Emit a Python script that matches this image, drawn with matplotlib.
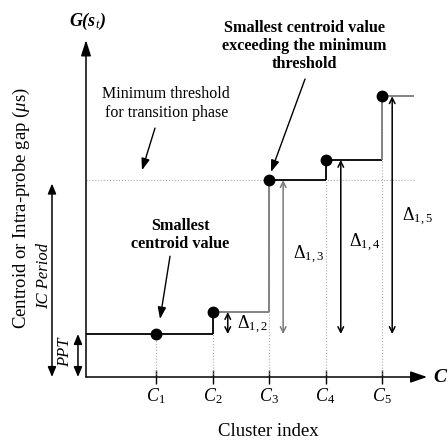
import numpy as np
import matplotlib.pyplot as plt

plt.rcParams['font.family'] = ['Liberation Serif', 'DejaVu Serif']
plt.rcParams['mathtext.fontset'] = 'custom'
plt.rcParams['mathtext.rm'] = 'Liberation Serif'
plt.rcParams['mathtext.it'] = 'Liberation Serif:italic'
plt.rcParams['mathtext.bf'] = 'Liberation Serif:bold'

# cluster index and centroid gap values (arbitrary units)
clusters = np.array([1, 2, 3, 4, 5])
centroids = np.array([1.0, 1.51, 4.58, 5.05, 6.53])
tick_labels = ['$C_1$', '$C_2$', '$C_3$', '$C_4$', '$C_5$']
threshold = 4.58
ic_period = 4.5
ppt = centroids[0]
delta_labels = [r'$\Delta_{1,2}$', r'$\Delta_{1,3}$', r'$\Delta_{1,4}$', r'$\Delta_{1,5}$']

GRAY = '#7a7a7a'
xmin, xmax = -0.239, 5.796
ymin, ymax = 0, 7.84
x_end = 5.57

fig = plt.figure(figsize=(4.48, 4.46), dpi=100)
ax = fig.add_axes([86 / 448, 69 / 446, 341 / 448, 337 / 446])
ax.set_xlim(xmin, xmax)
ax.set_ylim(ymin, ymax)
for s in ax.spines.values():
    s.set_visible(False)

# axes drawn as arrows
ax.annotate('', xy=(xmax, 0), xytext=(xmin, 0), annotation_clip=False,
            arrowprops=dict(arrowstyle='-|>,head_length=1.0,head_width=0.35',
                            color='black', lw=1.1, shrinkA=0, shrinkB=0))
ax.annotate('', xy=(xmin, ymax), xytext=(xmin, 0), annotation_clip=False,
            arrowprops=dict(arrowstyle='-|>,head_length=0.95,head_width=0.3',
                            color='black', lw=1.1, shrinkA=0, shrinkB=0))

ax.set_xticks(clusters)
ax.set_xticklabels(tick_labels, fontsize=13)
ax.set_yticks([])
ax.tick_params(axis='x', direction='inout', length=10, width=1, pad=2)

# threshold and guide lines
ax.plot([xmin, x_end], [threshold, threshold], ls=':', color='#aaaaaa', lw=0.8)
ax.vlines(clusters, 0, centroids, colors='#aaaaaa', linestyles=':', lw=0.8)

# step curve, split into segments so each can have its own shade
xs = np.r_[xmin, clusters[1:], x_end]
h_colors = ['black', GRAY, 'black', 'black', GRAY]
v_colors = ['black', GRAY, 'black', GRAY]
for i in range(len(centroids)):
    ax.plot([xs[i], xs[i + 1]], [centroids[i], centroids[i]], color=h_colors[i], lw=1.3,
            solid_capstyle='butt')
    if i < len(centroids) - 1:
        ax.plot([xs[i + 1], xs[i + 1]], [centroids[i], centroids[i + 1]], color=v_colors[i],
                lw=1.3, solid_capstyle='butt')
ax.plot(clusters, centroids, 'o', color='black', ms=7.5, zorder=5)

# delta arrows between the first centroid and each other centroid
d_offsets = [0.27, 0.25, 0.27, 0.18]
d_colors = ['black', GRAY, 'black', 'black']
for k in range(1, len(centroids)):
    xa = clusters[k] + d_offsets[k - 1]
    ax.annotate('', xy=(xa, centroids[k]), xytext=(xa, centroids[0]),
                arrowprops=dict(arrowstyle='<->,head_length=0.4,head_width=0.2',
                                color=d_colors[k - 1], lw=1.1, shrinkA=0, shrinkB=0))
d_text_x = [0.43, 0.42, 0.42, 0.36]
d_text_y = [1.21, 2.84, 3.12, 3.72]
for k in range(1, len(centroids)):
    ax.text(clusters[k] + d_text_x[k - 1], d_text_y[k - 1], delta_labels[k - 1],
            fontsize=13, ha='left', va='center')

# left side period arrows
ax.annotate('', xy=(-0.841, ic_period), xytext=(-0.841, 0), annotation_clip=False,
            arrowprops=dict(arrowstyle='<|-|>,head_length=0.6,head_width=0.25',
                            color='black', lw=1.1, shrinkA=0, shrinkB=0))
ax.annotate('', xy=(-0.381, ppt), xytext=(-0.381, 0), annotation_clip=False,
            arrowprops=dict(arrowstyle='<|-|>,head_length=0.6,head_width=0.25',
                            color='black', lw=1.1, shrinkA=0, shrinkB=0))
ax.text(-0.99, 2.35, 'IC Period', rotation=90, style='italic', fontsize=12,
        ha='center', va='center', clip_on=False)
ax.text(-0.615, 0.58, 'PPT', rotation=90, style='italic', fontsize=12,
        ha='center', va='center', clip_on=False)

# axis labels (bold italic)
ax.text(-0.221, 8.28, 'G(s$_t$)', fontsize=13, fontweight='bold', style='italic',
        ha='center', va='center', clip_on=False)
ax.text(6.03, 0, 'C', fontsize=14, fontweight='bold', style='italic',
        ha='center', va='center', clip_on=False)
fig.text(268 / 448, 1 - 432 / 446, 'Cluster index', fontsize=13.5, ha='center', va='center')
fig.text(21 / 448, 1 - 208 / 446, r'Centroid or Intra-probe gap ($\mu$s)', fontsize=13.5,
         rotation=90, ha='center', va='center')

# callout texts and their pointer arrows
pointer = dict(arrowstyle='-|>,head_length=0.7,head_width=0.25', color='black', lw=1,
               shrinkA=0, shrinkB=0)
ax.text(1.18, 6.37, 'Minimum threshold\nfor transition phase', fontsize=11.5,
        ha='center', va='center', linespacing=1.25)
ax.annotate('', xy=(0.752, 4.81), xytext=(0.982, 5.79), arrowprops=pointer)

ax.text(3.62, 7.70, 'Smallest centroid value\nexceeding the minimum\nthreshold',
        fontsize=11.7, fontweight='bold', ha='center', va='center', linespacing=1.2,
        clip_on=False)
ax.annotate('', xy=(3.035, 4.77), xytext=(3.637, 6.93), arrowprops=pointer)

ax.text(1.425, 3.30, 'Smallest\ncentroid value', fontsize=11.7, fontweight='bold',
        ha='center', va='center', linespacing=1.2)
ax.annotate('', xy=(1.071, 1.35), xytext=(1.248, 2.81), arrowprops=pointer)

fig.savefig('out.png', dpi=100)
